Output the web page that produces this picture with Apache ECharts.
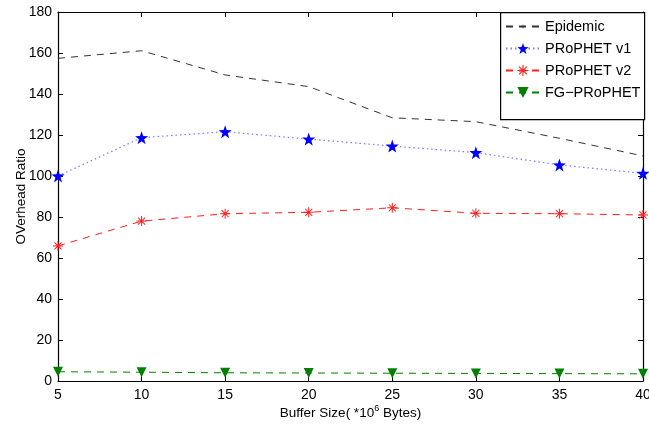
<!DOCTYPE html>
<html>
<head>
<meta charset="utf-8">
<script src="https://cdn.jsdelivr.net/npm/echarts@6/dist/echarts.min.js"></script>
<style>html,body{margin:0;padding:0;background:#fff}#c{width:649px;height:425px}</style>
</head>
<body>
<div id="c"></div>
<script>
var categories = [5, 10, 15, 20, 25, 30, 35, 40];
var epidemic = [157.4, 161.1, 149.3, 143.6, 128.4, 126.5, 118.4, 109.8];
var prophetV1 = [100, 118.7, 121.6, 118, 114.6, 111.4, 105.4, 101.3];
var prophetV2 = [65.9, 78, 81.6, 82.3, 84.5, 81.8, 81.6, 81];
var fgProphet = [4.5, 4.3, 4.0, 3.9, 3.8, 3.7, 3.6, 3.5];
var yTicks = [0, 20, 40, 60, 80, 100, 120, 140, 160, 180];
var xTicks = [5, 10, 15, 20, 25, 30, 35, 40];

function pairs(v) { return categories.map(function (c, i) { return [c, v[i]]; }); }

var star = 'path://M0,-10 L2.35,-3.24 L9.51,-3.09 L3.8,1.24 L5.88,8.09 L0,4 L-5.88,8.09 L-3.8,1.24 L-9.51,-3.09 L-2.35,-3.24 Z';
var asterisk = 'path://M-10,-1 h20 v2 h-20 Z M-1,-10 h2 v20 h-2 Z M-7.8,-6.4 L-6.4,-7.8 L7.8,6.4 L6.4,7.8 Z M6.4,-7.8 L7.8,-6.4 L-6.4,7.8 L-7.8,6.4 Z';
var tinyPlus = 'path://M-10,-10 M10,10 M-3,-0.6 h6 v1.2 h-6 Z M-0.6,-3 h1.2 v6 h-1.2 Z';

var font = 'Liberation Sans';
var chart = echarts.init(document.getElementById('c'), null, {renderer: 'canvas'});
var axisLineStyle = {color: '#000', width: 1.2};
chart.setOption({
  animation: false,
  backgroundColor: '#fff',
  textStyle: {fontFamily: font},
  grid: {left: 58, right: 6, top: 12, bottom: 44, outerBoundsMode: 'none', containLabel: false},
  xAxis: [{
    type: 'value', min: 5, max: 40, interval: 5,
    axisLine: {show: true, onZero: false, lineStyle: axisLineStyle},
    axisTick: {show: true, inside: true, length: 5, lineStyle: {color: '#000'}},
    axisLabel: {color: '#000', fontSize: 14, fontFamily: font, margin: 7,
      formatter: function (v) { return xTicks.indexOf(v) >= 0 ? String(v) : ''; }},
    splitLine: {show: false},
    name: '{a|Buffer Size( *10}{s|6}{a| Bytes)}',
    nameLocation: 'middle', nameGap: 23, nameMoveOverlap: false,
    nameTextStyle: {rich: {
      a: {fontSize: 13.5, fontFamily: font, color: '#000', verticalAlign: 'bottom', lineHeight: 16},
      s: {fontSize: 9, fontFamily: font, color: '#000', verticalAlign: 'top', lineHeight: 16, padding: [0, 0, 8, 0]}
    }}
  }, {
    type: 'value', position: 'top', min: 5, max: 40, interval: 5,
    axisLine: {show: true, onZero: false, lineStyle: axisLineStyle},
    axisTick: {show: true, inside: true, length: 5, lineStyle: {color: '#000'}},
    axisLabel: {show: false}, splitLine: {show: false}
  }],
  yAxis: [{
    type: 'value', min: 0, max: 180, interval: 20,
    axisLine: {show: true, onZero: false, lineStyle: axisLineStyle},
    axisTick: {show: true, inside: true, length: 5, lineStyle: {color: '#000'}},
    axisLabel: {color: '#000', fontSize: 14, fontFamily: font, margin: 6,
      formatter: function (v) { return yTicks.indexOf(v) >= 0 ? String(v) : ''; }},
    splitLine: {show: false},
    name: 'OVerhead Ratio', nameLocation: 'middle', nameGap: 30, nameRotate: 90, nameMoveOverlap: false,
    nameTextStyle: {fontSize: 13.5, fontFamily: font, color: '#000'}
  }, {
    type: 'value', position: 'right', min: 0, max: 180, interval: 20,
    axisLine: {show: true, onZero: false, lineStyle: axisLineStyle},
    axisTick: {show: true, inside: true, length: 5, lineStyle: {color: '#000'}},
    axisLabel: {show: false}, splitLine: {show: false}
  }],
  graphic: [{
    type: 'rect', left: 500, top: 12, z: 5,
    shape: {width: 144, height: 107},
    style: {fill: '#fff', stroke: '#000', lineWidth: 1.2}
  }],
  legend: {
    orient: 'vertical', left: 505, top: 14, z: 10, padding: [5, 2, 5, 0],
    itemWidth: 34, itemHeight: 14, itemGap: 7,
    textStyle: {fontSize: 14.5, fontFamily: font, color: '#000'},
    data: ['Epidemic', 'PRoPHET v1', 'PRoPHET v2', 'FG\u2212PRoPHET']
  },
  series: [{
    name: 'Epidemic', type: 'line', data: pairs(epidemic),
    symbol: tinyPlus, showSymbol: false, color: '#333',
    itemStyle: {color: '#333'},
    lineStyle: {color: '#333', width: 1, type: [7, 6]}
  }, {
    name: 'PRoPHET v1', type: 'line', data: pairs(prophetV1),
    symbol: star, symbolSize: 13, color: '#0000ff',
    itemStyle: {color: '#0000ff'},
    lineStyle: {color: '#7a7aff', width: 1.2, type: [1.5, 3]}
  }, {
    name: 'PRoPHET v2', type: 'line', data: pairs(prophetV2),
    symbol: asterisk, symbolSize: 10, color: '#ff0000',
    itemStyle: {color: '#ff2020'},
    lineStyle: {color: '#ff2020', width: 1, type: [7, 6]}
  }, {
    name: 'FG\u2212PRoPHET', type: 'line', data: pairs(fgProphet),
    symbol: 'triangle', symbolRotate: 180, symbolSize: 10, color: '#008000',
    itemStyle: {color: '#008000'},
    lineStyle: {color: '#008000', width: 1, type: [7, 6]}
  }]
});
</script>
</body>
</html>
